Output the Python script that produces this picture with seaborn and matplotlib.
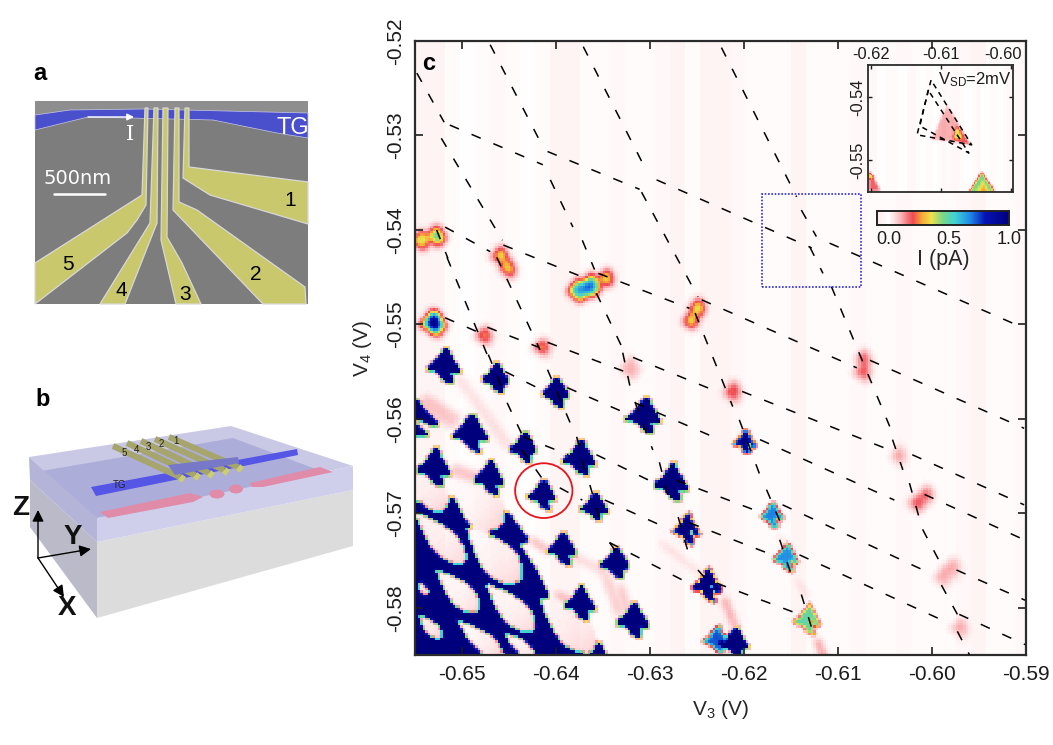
import numpy as np
import pandas as pd
import matplotlib
matplotlib.use("Agg")
import matplotlib.pyplot as plt
from matplotlib.colors import LinearSegmentedColormap
from matplotlib.patches import Polygon, Ellipse, Rectangle, FancyArrowPatch
from matplotlib.path import Path
from matplotlib.ticker import FormatStrFormatter
from matplotlib.transforms import ScaledTranslation
import seaborn as sns

# ---------- panel c data (volts, pA) ----------
V3_TICKS = [-0.65, -0.64, -0.63, -0.62, -0.61, -0.60, -0.59]
V4_TICKS = [-0.52, -0.53, -0.54, -0.55, -0.56, -0.57, -0.58]
stripe_levels = [.035, .03, .01, .005, .012, .02, .012, .005, .01, .03, .035, .015, .01, .02, .012, .008,
                 .02, .03, .015, .03, .035, .02, .008, .01, .012, .03, .01, .008, .012, .02, .008, .012,
                 .025, .012, .01, .008, .025, .03, .012, .01, .02, .025, .015, .03]

blob_v3 = [-.6520, -.6465, -.6401, -.6306, -.6492, -.6435, -.6375, -.6277, -.6531, -.6472, -.6415, -.6359,
           -.6261, -.6394, -.6337, -.6375, -.6318, -.6239, -.6210, -.6229, -.6199, -.6170, -.6155, -.6132]
blob_v4 = [-.5543, -.5556, -.5571, -.5596, -.5614, -.5630, -.5641, -.5667, -.5651, -.5662, -.5680, -.5693,
           -.5717, -.5737, -.5752, -.5795, -.5813, -.5776, -.5837, -.5834, -.5624, -.5702, -.5747, -.5813]
blob_peak = [3, 3, 3, 3, 3, 3, 3, 3, 3, 3, 3, 3, 1.05, 3, 3, 3, 3, 1.1, 3, .72, .98, .68, .66, .48]
blob_size = [1.1, .95, .95, 1.15, 1.2, .95, 1.1, 1.15, 1.15, 1.05, .95, .9, 1.0, 1.0, 1.0, 1.05, 1.1, 1.05, .95, .9, .8, .9, .95, 1.0]

spot_v3 = [-.6529, -.6460, -.6364, -.6249, -.6256, -.6532, -.6477, -.6415, -.6321, -.6212, -.6072, -.6035, -.6015, -.5987, -.5969,
           -.6545, -.6452, -.6377, -.6347, -.6072, -.6005, -.5977]
spot_v4 = [-.5405, -.5426, -.5458, -.5481, -.5495, -.5497, -.5511, -.5524, -.5546, -.5571, -.5550, -.5639, -.5689, -.5767, -.5821,
           -.5410, -.5440, -.5463, -.5450, -.5536, -.5680, -.5757]
spot_peak = [.42, .34, .62, .36, .34, .85, .24, .24, .09, .2, .17, .11, .17, .1, .09,
             .34, .32, .55, .34, .16, .16, .1]
spot_size = [.7, .6, .72, .55, .6, .8, .6, .6, .8, .7, .65, .6, .62, .7, .7,
             .65, .6, .7, .6, .62, .62, .62]

# blob outline offsets from its centre (V)
outline_d3 = [.0002, .0006, .0015, .0009, .0004, .0008, -.0001, -.0005, -.0017, -.0008]
outline_d4 = [.0017, .0008, -.0007, -.0008, -.0001, -.0018, -.0014, -.0007, -.0004, .0003]

sea_v3 = [-.6560, -.6516, -.6495, -.6453, -.6430, -.6442, -.6424, -.6407, -.6414, -.6389, -.6360, -.6343, -.6560]
sea_v4 = [-.5693, -.5682, -.5696, -.5700, -.5730, -.5732, -.5760, -.5792, -.5788, -.5841, -.5827, -.5860, -.5860]
strip_v3 = [[-.6560, -.6527, -.6530, -.6560], [-.6560, -.6536, -.6560], [-.6560, -.6525, -.6530, -.6560]]
strip_v4 = [[-.5572, -.5605, -.5608, -.5596], [-.5601, -.5619, -.5619], [-.5660, -.5670, -.5678, -.5668]]

lens_a3 = [-.6555, -.6516, -.6555, -.6499, -.6532, -.6479, -.6421, -.6511, -.6550, -.6550, -.6460]
lens_a4 = [-.5656, -.5663, -.5696, -.5714, -.5758, -.5772, -.5788, -.5811, -.5806, -.5769, -.5825]
lens_b3 = [-.6518, -.6458, -.6497, -.6438, -.6482, -.6423, -.6359, -.6456, -.6523, -.6538, -.6421]
lens_b4 = [-.5698, -.5716, -.5755, -.5774, -.5806, -.5827, -.5848, -.5855, -.5834, -.5790, -.5855]
lens_w = [.0016, .0022, .0016, .0021, .0015, .0016, .0019, .0012, .0009, .0006, .0009]

wake_a3 = [-.6545, -.6506, -.6513, -.6428, -.6401, -.6353, -.6382, -.6332, -.6290, -.6222, -.6163, -.6145, -.6122]
wake_a4 = [-.5580, -.5555, -.5654, -.5728, -.5785, -.5753, -.5746, -.5777, -.5731, -.5790, -.5725, -.5770, -.5835]
wake_b3 = [-.6506, -.6449, -.6481, -.6407, -.6385, -.6332, -.6353, -.6321, -.6242, -.6208, -.6150, -.6132, -.6115]
wake_b4 = [-.5605, -.5633, -.5665, -.5742, -.5795, -.5809, -.5760, -.5809, -.5768, -.5825, -.5745, -.5790, -.5852]
wake_v = [.07, .04, .08, .18, .18, .07, .06, .2, .06, .2, .06, .08, .25]
wake_w = [.0008, .0005, .0006, .0002, .0002, .0004, .0003, .00015, .0002, .0002, .00015, .00015, .0002]

seg_v3a = [-.6548, -.6522, -.6463, -.6409, -.6378, -.6364, -.6343,
           -.6470, -.6406, -.6372, -.6357, -.6329, -.6316, -.6290, -.6270, -.6249,
           -.6371, -.6309, -.6252, -.6205, -.6176, -.6162, -.6139,
           -.6224, -.6139, -.6130, -.6107, -.6042, -.6024, -.6010, -.5990, -.5973,
           -.6527, -.6516, -.6472, -.6452, -.6436,
           -.6513, -.6409, -.6293, -.6109,
           -.6518, -.6456, -.6355, -.6245, -.6066,
           -.6518, -.6473, -.6409, -.6318, -.6202, -.6021,
           -.6454, -.6388, -.6316, -.6183, -.6008,
           -.6435, -.6357, -.6272, -.6159, -.5974,
           -.6396, -.6348, -.6258, -.6141, -.5971,
           -.6343, -.6229]
seg_v4a = [-.5234, -.5303, -.5429, -.5548, -.5619, -.5670, -.5731,
           -.5204, -.5347, -.5411, -.5467, -.5530, -.5582, -.5646, -.5704, -.5760,
           -.5206, -.5360, -.5488, -.5601, -.5675, -.5728, -.5786,
           -.5207, -.5379, -.5418, -.5460, -.5622, -.5668, -.5717, -.5776, -.5825,
           -.5400, -.5429, -.5532, -.5583, -.5633,
           -.5289, -.5317, -.5347, -.5414,
           -.5397, -.5416, -.5446, -.5474, -.5538,
           -.5493, -.5503, -.5519, -.5535, -.5571, -.5638,
           -.5550, -.5567, -.5583, -.5622, -.5680,
           -.5619, -.5638, -.5665, -.5691, -.5760,
           -.5673, -.5686, -.5710, -.5744, -.5807,
           -.5731, -.5774]
seg_v3b = [-.6519, -.6457, -.6417, -.6385, -.6369, -.6350, -.6334,
           -.6415, -.6382, -.6359, -.6327, -.6321, -.6297, -.6279, -.6258, -.6242,
           -.6306, -.6249, -.6212, -.6181, -.6159, -.6148, -.6125,
           -.6144, -.6123, -.6116, -.6045, -.6031, -.6013, -.5992, -.5973, -.5960,
           -.6515, -.6472, -.6456, -.6436, -.6412,
           -.6414, -.6311, -.6128, -.5902,
           -.6470, -.6364, -.6258, -.6080, -.5902,
           -.6481, -.6419, -.6327, -.6229, -.6045, -.5902,
           -.6412, -.6321, -.6226, -.6040, -.5902,
           -.6387, -.6295, -.6185, -.6003, -.5901,
           -.6372, -.6279, -.6170, -.5985, -.5901,
           -.6255, -.6141]
seg_v4b = [-.5286, -.5411, -.5527, -.5604, -.5657, -.5717, -.5744,
           -.5310, -.5397, -.5442, -.5530, -.5567, -.5633, -.5689, -.5746, -.5768,
           -.5333, -.5471, -.5587, -.5665, -.5715, -.5770, -.5831,
           -.5365, -.5407, -.5446, -.5608, -.5654, -.5707, -.5751, -.5807, -.5850,
           -.5430, -.5535, -.5571, -.5617, -.5667,
           -.5331, -.5357, -.5419, -.5504,
           -.5423, -.5453, -.5483, -.5546, -.5610,
           -.5509, -.5524, -.5550, -.5571, -.5633, -.5691,
           -.5571, -.5596, -.5622, -.5686, -.5728,
           -.5638, -.5668, -.5698, -.5763, -.5792,
           -.5686, -.5717, -.5744, -.5815, -.5839,
           -.5776, -.5807]

# ---------- inset data ----------
ins_tri_v3 = [[-.6091, -.6057, -.6113], [-.6077, -.6058, -.6082], [-.6077, -.6069, -.6082],
              [-.6041, -.6022, -.6059], [-.6040, -.6028, -.6052], [-.6038, -.6033, -.6044],
              [-.6204, -.6187, -.6204], [-.6204, -.6197, -.6204]]
ins_tri_v4 = [[-.5413, -.5476, -.5467], [-.5444, -.5476, -.5468], [-.5447, -.5466, -.5466],
              [-.5520, -.5553, -.5553], [-.5531, -.5553, -.5553], [-.5538, -.5553, -.5553],
              [-.5516, -.5551, -.5551], [-.5516, -.5530, -.5530]]
ins_tri_val = [.1, .2, .38, .47, .36, .27, .17, .5]
ins_dash1_v3 = [-.6114, -.6134, -.6056, -.6114]
ins_dash1_v4 = [-.5373, -.5460, -.5476, -.5373]
ins_dash2_v3 = [-.6118, -.6130, -.6060, -.6118]
ins_dash2_v4 = [-.5389, -.5446, -.5489, -.5389]

# ---------- theme ----------
sns.set_theme(style="ticks")
plt.rcParams["font.family"] = ["Liberation Sans", "DejaVu Sans"]
plt.rcParams["axes.unicode_minus"] = False
plt.rcParams["axes.edgecolor"] = "#2b2b2b"
plt.rcParams["text.color"] = "#1c1c1c"
plt.rcParams["xtick.color"] = "#1c1c1c"
plt.rcParams["ytick.color"] = "#1c1c1c"

W, H = 1053, 745
fig = plt.figure(figsize=(W / 100, H / 100), dpi=100, facecolor="white")


def frac(l, t, r, b):
    return [l / W, 1 - b / H, (r - l) / W, (b - t) / H]


cmap = LinearSegmentedColormap.from_list("iv", [
    (0.00, "#fbeeee"), (0.09, "#fffefe"), (0.18, "#fab4b6"), (0.27, "#f04a52"), (0.335, "#f6a238"),
    (0.41, "#f0e24a"), (0.50, "#78d688"), (0.59, "#40d2d6"), (0.71, "#1f86e6"), (0.82, "#0612b4"), (1.0, "#00007c")])
VMIN, VMAX = -.1, 1.0


def gauss(img, s):
    r = int(3 * s) + 1
    k = np.exp(-.5 * (np.arange(-r, r + 1) / s) ** 2)
    k /= k.sum()
    p = np.pad(img, r, mode="edge")
    p = np.apply_along_axis(lambda a: np.convolve(a, k, "same"), 0, p)
    p = np.apply_along_axis(lambda a: np.convolve(a, k, "same"), 1, p)
    return p[r:-r, r:-r]


# ---------- build the current map from the lists ----------
XL, XR, YB, YT = -.655, -.59, -.585, -.52
nx, ny = 244, 246
gx, gy = np.meshgrid(np.linspace(XL, XR, nx), np.linspace(YT, YB, ny))
pts = np.c_[gx.ravel(), gy.ravel()]


def poly(px, py):
    return Path(np.c_[px, py]).contains_points(pts).reshape(gx.shape)


sharp = np.zeros_like(gx)
sharp[poly(sea_v3, sea_v4)] = 3
for a, b in zip(strip_v3, strip_v4):
    sharp[poly(a, b)] = 3
for a3, a4, b3, b4, w in zip(lens_a3, lens_a4, lens_b3, lens_b4, lens_w):
    L = np.hypot(b3 - a3, b4 - a4)
    u = ((gx - a3) * (b3 - a3) + (gy - a4) * (b4 - a4)) / L ** 2
    v = ((gx - a3) * (b4 - a4) - (gy - a4) * (b3 - a3)) / L
    uc = np.clip(u, 0, 1)
    m = (u > 0) & (u < 1) & (np.abs(v) < w * np.sin(np.pi * uc ** 1.5) ** .65)
    sharp[m] = .005 + .05 * uc[m] ** 3
for c3, c4, pk, sz in zip(blob_v3, blob_v4, blob_peak, blob_size):
    sharp[poly(np.array(outline_d3) * sz + c3, np.array(outline_d4) * sz + c4)] = pk
sharp = gauss(sharp, .6)

soft = np.zeros_like(gx)
for c3, c4, pk, sz in zip(spot_v3, spot_v4, spot_peak, spot_size):
    soft[poly(np.array(outline_d3) * sz + c3, np.array(outline_d4) * sz + c4)] = pk * 1.3
soft = gauss(soft, 1.5)

halo = np.zeros_like(gx)
for a3, a4, b3, b4, val, w in zip(wake_a3, wake_a4, wake_b3, wake_b4, wake_v, wake_w):
    L = np.hypot(b3 - a3, b4 - a4)
    u = ((gx - a3) * (b3 - a3) + (gy - a4) * (b4 - a4)) / L ** 2
    v = ((gx - a3) * (b4 - a4) - (gy - a4) * (b3 - a3)) / L
    halo[(u > 0) & (u < 1) & (np.abs(v) < w)] = val
halo = gauss(halo, 1.4)

stripes = np.repeat(stripe_levels, int(np.ceil(nx / len(stripe_levels))))[:nx]
current = np.maximum(np.maximum(sharp, soft), halo) + np.tile(stripes, (ny, 1)) * .4
current = np.clip(current, VMIN, VMAX)

# ---------- panels a and b (illustrations, in figure pixels) ----------
bg = fig.add_axes([0, 0, 1, 1], zorder=0)
bg.set_xlim(0, W); bg.set_ylim(H, 0); bg.axis("off")


def pg(p, fc, ec="none", lw=0, alpha=1, z=1):
    bg.add_patch(Polygon(p, closed=True, fc=fc, ec=ec, lw=lw, alpha=alpha, zorder=z))


bg.add_patch(Rectangle((35, 101), 273, 203, fc="#7d7d7d", ec="none", zorder=1))
pg([(35, 101), (308, 101), (308, 115), (35, 118)], "#8e8e8e", z=1.1)
pg([(35, 115), (70, 110), (143, 109), (308, 113), (308, 138), (277, 133), (213, 120), (88, 117), (35, 130)], "#4a50cc", ec="#c8c8e8", lw=.5, z=2)
gates = [
    [(185, 108), (189, 108), (189, 167), (308, 182), (308, 224), (210, 195), (183, 178)],
    [(175, 108), (179, 108), (179, 202), (197, 210), (305, 287), (306, 304), (263, 304), (173, 210)],
    [(163, 108), (168, 108), (167, 237), (182, 263), (201, 304), (176, 304), (161, 240)],
    [(154, 108), (158, 108), (157, 223), (125, 304), (100, 304), (150, 223)],
    [(145, 108), (148, 108), (146, 205), (137, 220), (127, 233), (35, 304), (35, 263), (142, 195)],
]
for g in gates:
    pg(g, "#c9c86c", ec="#d8d8d8", lw=.9, z=3)
sem_txt = dict(color="white", ha="center", va="center", zorder=5)
bg.text(293, 128, "TG", fontsize=17, **sem_txt)
bg.text(130, 134, "I", fontsize=15, family="DejaVu Serif", **sem_txt)
bg.text(78, 179, "500nm", fontsize=14, family="DejaVu Sans", **sem_txt)
bg.plot([54, 105], [194, 194], color="white", lw=1.8, zorder=5)
bg.add_patch(FancyArrowPatch((88, 117), (134, 117), arrowstyle="-|>", mutation_scale=10, color="white", lw=1, zorder=5, shrinkA=0, shrinkB=0))
for s, x, y in [("1", 290, 200), ("2", 256, 275), ("3", 185, 294), ("4", 121, 290), ("5", 68, 264)]:
    bg.text(x, y, s, fontsize=15, color="black", ha="center", va="center", zorder=5)

# block
pg([(30, 480), (97, 542), (97, 618), (30, 527)], "#babac8", z=1)
pg([(97, 542), (353, 490), (353, 546), (97, 618)], "#dcdcdc", z=1)
pg([(29, 457), (231, 426), (353, 466), (97, 518)], "#c9c9e6", z=1.1)
pg([(30, 473), (233, 438), (353, 483), (97, 518)], "#adadd9", z=1.2)
pg([(29, 457), (97, 518), (97, 542), (30, 480)], "#b4b4d8", z=1.3)
pg([(97, 518), (353, 466), (353, 490), (97, 542)], "#cfcfec", z=1.3)
pg([(100, 512), (190, 493), (203, 497), (193, 502), (108, 518)], "#e08ca8", z=1.5)
pg([(250, 483), (320, 467), (333, 472), (263, 487), (252, 487)], "#e08ca8", z=1.5)
bg.add_patch(Ellipse((217, 494), 15, 9, fc="#e08ca8", ec="none", zorder=1.5))
bg.add_patch(Ellipse((236, 489), 14, 9, fc="#e08ca8", ec="none", zorder=1.5))
pg([(91, 487), (297, 449), (298, 455), (96, 496)], "#5555e6", z=2)
pg([(168, 465), (238, 457), (239, 463), (175, 475)], "#7878c8", z=2.5)
starts = [(113, 446), (127, 443), (141, 441), (155, 439), (169, 437)]
ends = [(180, 477), (195, 475), (209, 473), (224, 470), (238, 467)]
for st, en in zip(starts, ends):
    bg.plot([st[0], en[0]], [st[1], en[1]], color="#a5a56c", lw=4.4, solid_capstyle="butt", zorder=2.2)
    bg.plot([en[0], en[0] + 4], [en[1], en[1] + 3], color="#cccc70", lw=5, solid_capstyle="butt", zorder=2.3)
for s, x, y in [("5", 124, 453), ("4", 137, 450), ("3", 148, 447), ("2", 161, 444), ("1", 176, 441), ("TG", 120, 485)]:
    bg.text(x, y, s, fontsize=7, color="#222222", ha="center", va="center", zorder=6)
for end in [(38, 510), (91, 549), (64, 597)]:
    bg.add_patch(FancyArrowPatch((38, 558), end, arrowstyle="-|>", mutation_scale=17, color="black", lw=1, zorder=6, shrinkA=0, shrinkB=0))
for s, x, y in [("Z", 21, 508), ("Y", 73, 537), ("X", 67, 608)]:
    bg.text(x, y, s, fontsize=20, fontweight="bold", color="#111111", ha="center", va="center", zorder=6)
for s, x, y in [("a", 40, 73), ("b", 43, 400)]:
    bg.text(x, y, s, fontsize=17, fontweight="bold", color="black", ha="center", va="center", zorder=6)

# ---------- panel c ----------
ax_heat = fig.add_axes(frac(415, 41, 1026, 655), zorder=1)
cax = fig.add_axes(frac(877, 211, 1009, 225), zorder=5)
sns.heatmap(current, ax=ax_heat, cmap=cmap, vmin=VMIN, vmax=VMAX, xticklabels=False, yticklabels=False,
            cbar_ax=cax, cbar_kws={"orientation": "horizontal", "ticks": [0, .5, 1]})
ax_heat.set_axis_off()
cax.tick_params(length=0, labelsize=13, pad=4)
cax.set_xticklabels(["0.0", "0.5", "1.0"])
cax.set_xlabel("I (pA)", fontsize=15.5, labelpad=1)
for s in cax.spines.values():
    s.set_visible(True); s.set_linewidth(1.2); s.set_color("#222222")

ax = fig.add_axes(frac(415, 41, 1026, 655), zorder=2, facecolor="none")
segs = pd.DataFrame({
    "V3": np.r_[seg_v3a, seg_v3b], "V4": np.r_[seg_v4a, seg_v4b],
    "seg": np.r_[np.arange(len(seg_v3a)), np.arange(len(seg_v3a))]})
sns.lineplot(data=segs, x="V3", y="V4", units="seg", estimator=None, sort=False, color="black",
             linewidth=1.1, linestyle=(0, (6.5, 9)), ax=ax, legend=False, zorder=4)
ax.add_patch(Ellipse((-.6413, -.5676), .0061, .0058, fc="none", ec="#e8141c", lw=1.3, zorder=5))
ax.add_patch(Rectangle((-.6181, -.5460), .0105, .0098, fc="none", ec="#2a2ae0", lw=1.2, ls=(0, (1, 1)), zorder=5))
ax.set_xlim(XL, XR); ax.set_ylim(YB, YT)
ax.set_xticks(V3_TICKS); ax.set_yticks(V4_TICKS)
ax.xaxis.set_major_formatter(FormatStrFormatter("%.2f"))
ax.yaxis.set_major_formatter(FormatStrFormatter("%.2f"))
ax.tick_params(direction="in", length=6, width=1.2, top=True, right=True, labelsize=15, pad=7)
for lab in ax.get_yticklabels():
    lab.set_rotation(90); lab.set_va("center")
ax.set_xlabel(r"$\mathregular{V_3}$ (V)", fontsize=15, labelpad=10)
ax.set_ylabel(r"$\mathregular{V_4}$ (V)", fontsize=15, labelpad=9)
for s in ax.spines.values():
    s.set_linewidth(1.6)
ax.text(-.6535, -.5224, "c", fontsize=17, fontweight="bold", color="black", ha="center", va="center", zorder=6)

# ---------- inset ----------
IL, IR, IB, IT = -.6204, -.5997, -.5551, -.5349
ix, iy = 100, 92
hx, hy = np.meshgrid(np.linspace(IL, IR, ix), np.linspace(IT, IB, iy))
ipts = np.c_[hx.ravel(), hy.ravel()]
inset_map = np.zeros_like(hx)
for a, b, val in zip(ins_tri_v3, ins_tri_v4, ins_tri_val):
    a2 = np.array(a); b2 = np.array(b)
    inset_map[Path(np.c_[a2, b2]).contains_points(ipts).reshape(hx.shape)] = val
inset_map = gauss(inset_map, .8) + np.tile(np.repeat(stripe_levels, 3)[:ix], (iy, 1)) * .3
ax_ih = fig.add_axes(frac(868, 65, 1013, 192), zorder=3)
sns.heatmap(inset_map, ax=ax_ih, cmap=cmap, vmin=VMIN, vmax=VMAX, cbar=False, xticklabels=False, yticklabels=False)
ax_ih.set_axis_off()
ai = fig.add_axes(frac(868, 65, 1013, 192), zorder=4, facecolor="none")
sns.lineplot(x=ins_dash1_v3, y=ins_dash1_v4, sort=False, estimator=None, color="black", linewidth=1.1,
             linestyle=(0, (3.5, 3)), ax=ai)
sns.lineplot(x=ins_dash2_v3, y=ins_dash2_v4, sort=False, estimator=None, color="black", linewidth=1.1,
             linestyle=(0, (3.5, 3)), ax=ai)
ai.set_xlim(IL, IR); ai.set_ylim(IB, IT)
ai.set_xticks([-.62, -.61, -.60]); ai.set_yticks([-.54, -.55])
ai.xaxis.set_major_formatter(FormatStrFormatter("%.2f"))
ai.yaxis.set_major_formatter(FormatStrFormatter("%.2f"))
ai.tick_params(direction="in", length=3, width=1, top=True, right=True, labeltop=True, labelbottom=False, labelsize=11.8, pad=2)
fig.canvas.draw()
for t in ai.xaxis.get_major_ticks()[2:]:
    t.label2.set_transform(t.label2.get_transform() + ScaledTranslation(-.08, 0, fig.dpi_scale_trans))
for lab in ai.get_yticklabels():
    lab.set_rotation(90); lab.set_va("center")
for s in ai.spines.values():
    s.set_linewidth(1.3)
ai.text(-.59995, -.5372, r"$\mathregular{V_{SD}}$=2mV", fontsize=12, ha="right", va="center")

fig.savefig("out.png", dpi=100)
